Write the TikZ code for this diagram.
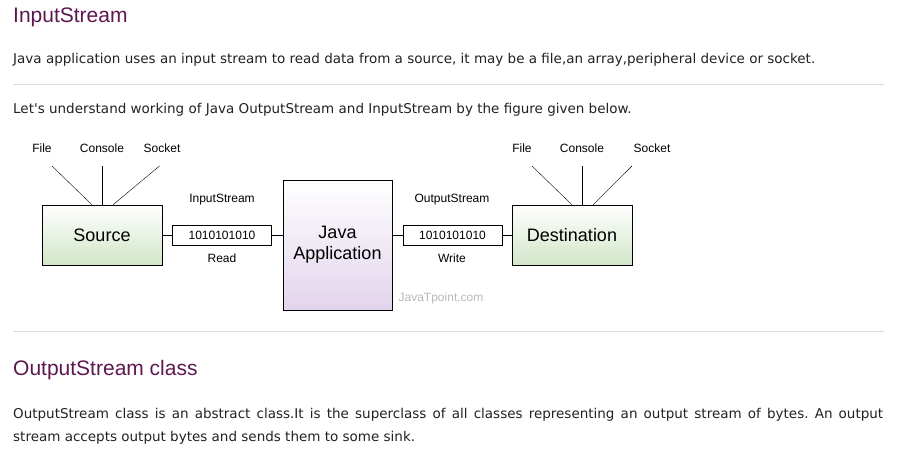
\documentclass[tikz,border=0pt]{standalone}
\usepackage{fontspec}
\setmainfont{DejaVu Sans}
\newfontfamily\diagfont{Liberation Sans}
\frenchspacing
\begin{document}
\begin{tikzpicture}[x=1pt,y=-1pt,
  heading/.style={anchor=base west,inner sep=0pt,text=headpurple,font=\diagfont\fontsize{21}{25}\selectfont},
  bodytext/.style={anchor=base west,inner sep=0pt,text=bodygray,font=\fontsize{13.5}{24}\selectfont},
  sepline/.style={draw=rulegray,line width=1pt},
  smalllabel/.style={anchor=base,inner sep=0pt,font=\diagfont\fontsize{12}{14}\selectfont},
  endbox/.style={shape=rectangle,draw,top color=white,bottom color=boxgreen,minimum width=120pt,minimum height=60pt,font=\diagfont\fontsize{18}{21}\selectfont},
  appbox/.style={shape=rectangle,draw,top color=white,bottom color=boxpurple,minimum width=109pt,minimum height=130pt,align=center,font=\diagfont\fontsize{18}{21}\selectfont},
  bitbox/.style={shape=rectangle,draw,fill=white,minimum width=99pt,minimum height=20pt,inner sep=0pt,font=\diagfont\fontsize{12}{14}\selectfont}]
\definecolor{headpurple}{RGB}{94,24,80}
\definecolor{bodygray}{RGB}{34,34,34}
\definecolor{rulegray}{RGB}{221,221,221}
\definecolor{boxgreen}{RGB}{210,230,200}
\definecolor{boxpurple}{RGB}{226,212,236}
\definecolor{markgray}{RGB}{185,185,185}
\useasboundingbox[fill=white] (0,0) rectangle (922,457);
% page text
\node[heading] (headin) at (13,23) {InputStream};
\node[bodytext] (introin) at (13,64) {Java application uses an input stream to read data from a source, it may be a file,an array,peripheral device or socket.};
\draw[sepline] (13,85) to (884,85);
\node[bodytext] (introfig) at (13,114) {Let\textquotesingle s understand working of Java OutputStream and InputStream by the figure given below.};
% boxes
\node[endbox] (source) at (102,235) {Source};
\node[bitbox] (instream) at (222,235) {1010101010};
\node[appbox] (javaapp) at (337.5,245) {Java\\Application};
\node[bitbox] (outstream) at (452.5,235) {1010101010};
\node[endbox] (dest) at (572,235) {Destination};
\node[smalllabel] (inname) at (222,203) {InputStream};
\node[smalllabel] (inread) at (222,263) {Read};
\node[smalllabel] (outname) at (452,203) {OutputStream};
\node[smalllabel] (outwrite) at (452,263) {Write};
\draw (source.east) to (instream.west);
\draw (instream.east) to (instream.east -| javaapp.west);
\draw (outstream.west -| javaapp.east) to (outstream.west);
\draw (outstream.east) to (dest.west);
% devices
\node[smalllabel] (srcfile) at (42,153) {File};
\node[smalllabel] (srccons) at (102,153) {Console};
\node[smalllabel] (srcsock) at (162,153) {Socket};
\coordinate (srcfiletop) at (52,166);
\coordinate (srcconstop) at (102,166);
\coordinate (srcsocktop) at (159.5,166);
\draw (srcfiletop) to ([xshift=-10pt]source.north);
\draw (srcconstop) to (source.north);
\draw (srcsocktop) to ([xshift=11pt]source.north);
\node[smalllabel] (dstfile) at (522,153) {File};
\node[smalllabel] (dstcons) at (582,153) {Console};
\node[smalllabel] (dstsock) at (652,153) {Socket};
\coordinate (dstfiletop) at (532,166);
\coordinate (dstconstop) at (582,166);
\coordinate (dstsocktop) at (632,166);
\draw (dstfiletop) to ([xshift=0pt]dest.north);
\draw (dstconstop) to ([xshift=10pt]dest.north);
\draw (dstsocktop) to ([xshift=21pt]dest.north);
\node[smalllabel,text=markgray] (mark) at (441,302) {JavaTpoint.com};
% next section
\draw[sepline] (13,332) to (884,332);
\node[heading] (headout) at (13,375) {OutputStream class};
\node[bodytext] (parafirst) at (13,418) {\makebox[870pt][s]{OutputStream class is an abstract class.It is the superclass of all classes representing an output stream of bytes. An output}};
\node[bodytext] (parasecond) at (13,441) {stream accepts output bytes and sends them to some sink.};
\end{tikzpicture}
\end{document}
